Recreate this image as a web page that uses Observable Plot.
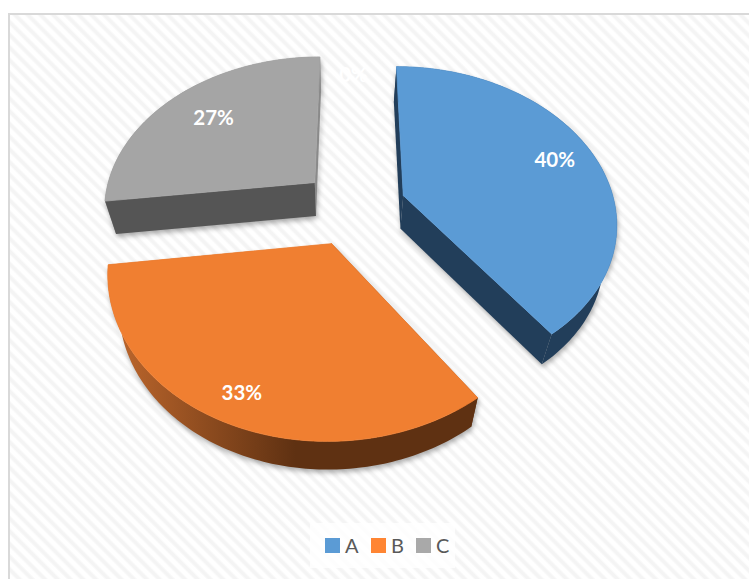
<!DOCTYPE html>
<html>
<head>
<meta charset="utf-8">
<script src="https://cdn.jsdelivr.net/npm/d3@7"></script>
<script src="https://cdn.jsdelivr.net/npm/@observablehq/plot@0.6"></script>
<style>
  html,body{margin:0;padding:0;background:#fff;width:749px;height:579px;overflow:hidden}
  #frame{position:absolute;left:8px;top:13px;width:760px;height:580px;box-sizing:border-box;border:2px solid #d9d9d9;
    background:repeating-linear-gradient(45deg,#fff 0,#fff 3px,#f4f4f4 5px,#f4f4f4 7px,#fff 9px)}
  #chart{position:absolute;left:0;top:0}
  #legend{position:absolute;left:310px;top:523px;width:145px;height:45px;background:rgba(255,255,255,.8);
    font:20px Lato,sans-serif;color:#595959}
  #legend span{position:absolute;top:10px;line-height:24px}
  #legend i{position:absolute;top:15px;width:15px;height:15px}
</style>
</head>
<body>
<div id="frame"></div>
<div id="chart"></div>
<div id="legend"></div>
<script>
// ---- data ----
const categories = ["A", "B", "C", "D"];
const shares = [40, 33, 27, 0];
const labels = ["40%", "33%", "27%", "0%"];
const legendCategories = ["A", "B", "C"];

// ---- styling ----
const topColors = ["#5b9bd5", "#f07f31", "#a5a5a5", "#ffffff"];
const legendColors = ["#5b9bd5", "#ff8533", "#a9a9a9"];
const rimColors = {A: "#223e5a", B: "url(#sideB)", C: "#8a8a8a"};
const startCutColors = {A: "#223e5a", B: "#5f3112", C: "#555555"};
const endCutColors = {A: "#223e5a", B: "#b5622a", C: "#8a8a8a"};

// ---- pie geometry (perspective disc, exploded slices) ----
const W = 749, H = 579;
const cx = 353, cy = 206.7, rx = 212, ry = 153, k = 0.16, explode = 0.25;
const depthY = 33, depthCx = 340, depthScale = 0.953, depthCy = 200, depthScaleY = 0.98;
const labelRadius = [0.8, 0.86, 0.72, 1];
const rad = d => d * Math.PI / 180;
const project = (X, Y) => { const s = 1 / (1 + k * Y); return [cx + rx * X * s, cy - ry * Y * s]; };
const lower = ([x, y]) => [depthCx + (x - depthCx) * depthScale, depthCy + (y - depthCy) * depthScaleY + depthY];

let start = 0;
const slices = categories.map((c, i) => {
  const a0 = start, a1 = start + shares[i] * 3.6; start = a1;
  const mid = rad((a0 + a1) / 2);
  const e = shares[i] > 0 ? explode : 0;
  const ox = e * Math.sin(mid), oy = e * Math.cos(mid);
  const point = (a, r = 1) => project(ox + r * Math.sin(rad(a)), oy + r * Math.cos(rad(a)));
  return {c, i, a0, a1, ox, oy, point, mid};
});

function polygon(rows, id, pts, fill) {
  pts.forEach(([x, y]) => rows.push({x, y, id, fill}));
}

const withShadow = (index, scales, values, dimensions, context, next) => {
  const g = next(index, scales, values, dimensions, context);
  g.style.filter = "drop-shadow(1px 3px 2.5px rgba(0,0,0,.32))";
  return g;
};

// gradient of the orange slice's rim, light at the left and dark toward the front
const gradientDefs = () => {
  const ns = "http://www.w3.org/2000/svg";
  const defs = document.createElementNS(ns, "defs");
  const grad = document.createElementNS(ns, "linearGradient");
  grad.setAttribute("id", "sideB");
  grad.setAttribute("gradientUnits", "userSpaceOnUse");
  grad.setAttribute("x1", 130); grad.setAttribute("x2", 295);
  grad.setAttribute("y1", 0); grad.setAttribute("y2", 0);
  [[0, "#b5622a"], [1, "#5f3112"]].forEach(([o, c]) => {
    const stop = document.createElementNS(ns, "stop");
    stop.setAttribute("offset", o); stop.setAttribute("stop-color", c);
    grad.append(stop);
  });
  defs.append(grad);
  return defs;
};

const marks = [gradientDefs];
for (const s of slices.slice(0, 3).reverse()) {
  const body = [];
  const apex = project(s.ox, s.oy);
  const first = s.point(s.a0), last = s.point(s.a1);
  const arc = d3.range(s.a0, s.a1, 1).concat(s.a1).map(a => s.point(a));
  polygon(body, "rim", [...arc, ...arc.map(lower).reverse(), arc[0]], rimColors[s.c]);
  polygon(body, "e1", [apex, last, lower(last), lower(apex), apex], endCutColors[s.c]);
  polygon(body, "e0", [apex, first, lower(first), lower(apex), apex], startCutColors[s.c]);
  marks.push(Plot.line(body, {
    x: "x", y: "y", z: "id",
    fill: {value: "fill", scale: null},
    stroke: "none",
    render: withShadow
  }));
  const face = [];
  polygon(face, s.c, [apex, ...arc, apex], s.c);
  marks.push(Plot.line(face, {x: "x", y: "y", z: "id", fill: "fill", stroke: "fill", strokeWidth: 0.8}));
}

const labelRows = slices.map(s => {
  const [x, y] = s.point((s.a0 + s.a1) / 2 % 360, labelRadius[s.i]);
  return {x, y, label: labels[s.i]};
});
// the 0% slice sits at the top of the disc, at zero angle
labelRows[3] = (() => { const [x, y] = project(0, labelRadius[3]); return {x, y, label: labels[3]}; })();

marks.push(Plot.text(labelRows, {
  x: "x", y: "y", text: "label", fill: "#fff",
  fontFamily: "Lato, sans-serif", fontWeight: 700, fontSize: 20.5
}));

const plot = Plot.plot({
  width: W, height: H,
  margin: 0,
  style: {background: "transparent", overflow: "visible"},
  x: {domain: [0, W], range: [0, W], axis: null},
  y: {domain: [0, H], range: [0, H], axis: null},
  color: {domain: categories, range: topColors},
  marks
});
document.getElementById("chart").append(plot);

// ---- legend ----
const legend = document.getElementById("legend");
const swatchX = [15, 61, 106], textX = [35, 81, 126];
legendCategories.forEach((c, i) => {
  const sw = document.createElement("i");
  sw.style.left = swatchX[i] + "px"; sw.style.background = legendColors[i];
  const t = document.createElement("span");
  t.style.left = textX[i] + "px"; t.textContent = c;
  legend.append(sw, t);
});
</script>
</body>
</html>
